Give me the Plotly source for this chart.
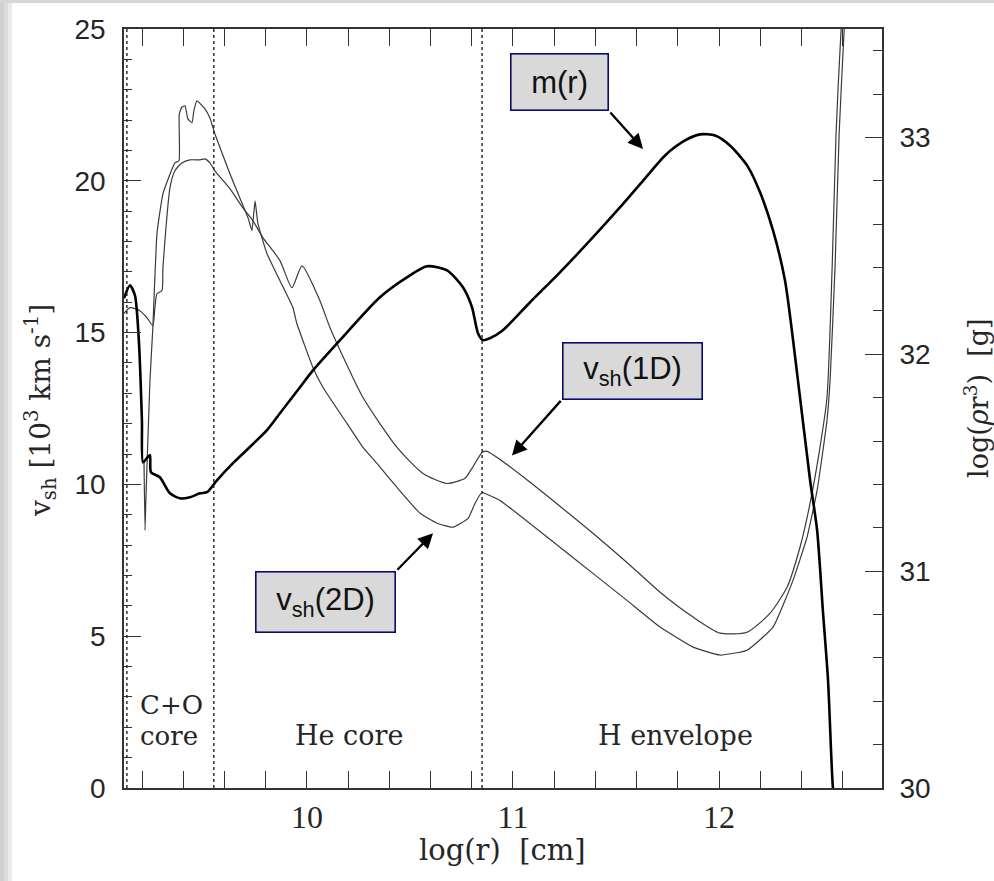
import plotly.graph_objects as go

# ---- data ----
# v_sh 1D  [10^3 km/s]  vs log(r) [cm]
x_1d = [9.112, 9.141, 9.189, 9.223, 9.252, 9.262, 9.272, 9.296, 9.301, 9.335, 9.359, 9.393,
        9.432, 9.481, 9.505, 9.529, 9.553, 9.626, 9.689, 9.738, 9.786, 9.869, 9.927, 9.976,
        10.063, 10.112, 10.272, 10.437, 10.563, 10.680, 10.767, 10.801, 10.850, 10.874,
        10.937, 11.083, 11.228, 11.388, 11.553, 11.714, 11.874, 12.005, 12.136, 12.248,
        12.330, 12.393, 12.442, 12.490, 12.524, 12.549, 12.568, 12.592, 12.610]
v_1d = [15.63, 15.82, 15.72, 15.49, 15.23, 15.82, 16.28, 16.38, 17.14, 19.77, 20.33, 20.59,
        20.69, 20.69, 20.72, 20.59, 20.33, 19.74, 19.11, 18.68, 18.13, 17.37, 16.48, 17.20,
        16.05, 15.16, 12.86, 11.22, 10.36, 10.03, 10.20, 10.53, 11.05, 11.09,
        10.82, 10.07, 9.28, 8.39, 7.43, 6.45, 5.63, 5.10, 5.13, 5.76,
        6.61, 7.93, 9.38, 11.22, 12.86, 17.14, 21.55, 24.93, 26.5]

# v_sh 2D
x_2d = [9.209, 9.214, 9.218, 9.238, 9.252, 9.272, 9.301, 9.359, 9.379, 9.380, 9.393, 9.408,
        9.422, 9.442, 9.451, 9.466, 9.505, 9.529, 9.553, 9.626, 9.660, 9.714, 9.733, 9.748,
        9.762, 9.806, 9.869, 9.932, 9.951, 10.029, 10.078, 10.194, 10.272, 10.340, 10.437,
        10.549, 10.631, 10.709, 10.782, 10.816, 10.850, 10.864, 10.937, 11.228, 11.388,
        11.553, 11.714, 11.874, 12.005, 12.136, 12.262, 12.359, 12.427, 12.476, 12.524,
        12.539, 12.563, 12.583, 12.607, 12.625]
v_2d = [10.8, 8.49, 9.47, 13.42, 15.16, 18.26, 19.57, 20.59, 20.66, 22.20, 22.43, 22.47,
        22.04, 21.91, 22.30, 22.63, 22.37, 22.07, 21.55, 20.23, 19.67, 18.78, 18.36, 19.34,
        18.59, 17.60, 16.71, 15.82, 15.30, 13.85, 13.19, 12.01, 11.22, 10.69, 9.90,
        9.05, 8.72, 8.59, 8.88, 9.38, 9.74, 9.70, 9.47, 7.93, 7.07,
        6.18, 5.30, 4.64, 4.38, 4.54, 5.30, 6.84, 8.26, 9.80, 12.11,
        13.42, 17.14, 21.55, 24.93, 26.5]

# log(rho r^3) [g]  (right axis)
x_m = [9.112, 9.141, 9.165, 9.184, 9.199, 9.204, 9.223, 9.238, 9.243, 9.286, 9.335, 9.383,
       9.432, 9.481, 9.515, 9.563, 9.641, 9.806, 9.869, 9.966, 10.029, 10.160, 10.354,
       10.485, 10.583, 10.680, 10.757, 10.801, 10.830, 10.854, 10.888, 10.951, 11.083,
       11.228, 11.374, 11.519, 11.641, 11.738, 11.835, 11.908, 11.981, 12.053, 12.136,
       12.199, 12.262, 12.320, 12.383, 12.442, 12.476, 12.505, 12.529, 12.553, 12.563]
m_r = [32.258, 32.318, 32.272, 32.065, 31.696, 31.502, 31.521, 31.535, 31.456, 31.433, 31.359,
       31.336, 31.341, 31.359, 31.364, 31.419, 31.498, 31.650, 31.728, 31.848, 31.926, 32.065,
       32.263, 32.355, 32.406, 32.387, 32.309, 32.217, 32.097, 32.065, 32.074, 32.111, 32.240,
       32.378, 32.525, 32.677, 32.811, 32.917, 32.986, 33.014, 33.009, 32.963, 32.871,
       32.747, 32.571, 32.341, 31.880, 31.419, 31.189, 30.806, 30.498, 30.0, 29.94]

# region boundaries (log r)
boundaries = [9.126, 9.548, 10.85]
region_labels = ["C+O", "core", "He core", "H envelope"]
region_x = [9.180, 9.180, 10.204, 11.791]
region_y = [2.72, 1.72, 1.72, 1.72]

x_ticks = [10, 11, 12]

W, H = 994, 881
L, R, T, B = 124, 882, 29, 788
serif = "Liberation Serif, Times New Roman, serif"
wserif = "DejaVu Serif, serif"
sans = "Liberation Sans, Arial, sans-serif"
ink = "#262626"
thin = "#3a3a3a"

fig = go.Figure()
fig.add_trace(go.Scatter(x=x_1d, y=v_1d, mode="lines",
                         line=dict(color=thin, width=1.2, shape="spline", smoothing=0.6),
                         name="v_sh(1D)", showlegend=False))
fig.add_trace(go.Scatter(x=x_2d, y=v_2d, mode="lines",
                         line=dict(color=thin, width=1.2, shape="spline", smoothing=0.4),
                         name="v_sh(2D)", showlegend=False))
fig.add_trace(go.Scatter(x=x_m, y=m_r, mode="lines",
                         line=dict(color="#000000", width=2.6, shape="spline", smoothing=0.7),
                         name="m(r)", yaxis="y2", showlegend=False))

for b in boundaries:
    fig.add_shape(type="line", x0=b, x1=b, y0=0, y1=25, xref="x", yref="y",
                  line=dict(color="#222", width=1.4, dash="dot"))

# region labels
for i, (lab, xx, yy) in enumerate(zip(region_labels, region_x, region_y)):
    fig.add_annotation(x=xx, y=yy, text=lab, showarrow=False,
                       xanchor="left" if i < 2 else "center", yanchor="middle",
                       font=dict(family=wserif, size=26 if i < 2 else 27, color=ink))

# labelled boxes
boxes = [("m(r)", 11.226, 23.26, 96, 55),
         ("v<sub>sh</sub>(1D)", 11.580, 13.75, 138, 55),
         ("v<sub>sh</sub>(2D)", 10.090, 6.12, 138, 59)]
for txt, bx, by, bw, bh in boxes:
    fig.add_annotation(x=bx, y=by, text=txt, showarrow=False, width=bw, height=bh,
                       bgcolor="#d9d9d9", bordercolor="#0a0a70", borderwidth=1.6, borderpad=0,
                       font=dict(family=sans, size=31, color="#111"))

arrows = [(11.631, 21.05, 11.466, 22.30),
          (10.995, 10.95, 11.238, 12.80),
          (10.612, 8.39, 10.432, 7.14)]
for tx, ty, sx, sy in arrows:
    fig.add_annotation(x=tx, y=ty, ax=sx, ay=sy, xref="x", yref="y", axref="x", ayref="y",
                       text="", showarrow=True, arrowhead=2, arrowsize=1.3, arrowwidth=2.3,
                       arrowcolor="#000", standoff=0, startstandoff=0)

# axis titles
def px_x(p):
    return (p - L) / (R - L)

def px_y(p):
    return (B - p) / (B - T)

fig.add_annotation(xref="paper", yref="paper", x=px_x(502), y=px_y(850),
                   xanchor="center", yanchor="middle",
                   text="log(r)\u00a0 [cm]", showarrow=False,
                   font=dict(family=wserif, size=29, color=ink))
fig.add_annotation(xref="paper", yref="paper", x=px_x(40), y=px_y(411),
                   xanchor="center", yanchor="middle",
                   text="v<sub>sh</sub> [10<sup>3</sup> km s<sup>-1</sup>]", textangle=-90,
                   showarrow=False, font=dict(family=wserif, size=28, color=ink))
fig.add_annotation(xref="paper", yref="paper", x=px_x(976), y=px_y(398),
                   xanchor="center", yanchor="middle",
                   text="log(<i>ρ</i>r<sup>3</sup>)\u00a0 [g]", textangle=-90,
                   showarrow=False, font=dict(family=wserif, size=27, color=ink))

# slide-like gray edges
for x0, x1, c in [(0, 4, "#cfcfcf"), (4, 8, "#dcdcdc"), (8, 12, "#ebebeb")]:
    fig.add_shape(type="rect", xref="paper", yref="paper", x0=px_x(x0), x1=px_x(x1),
                  y0=px_y(H), y1=px_y(0), line_width=0, fillcolor=c, layer="below")
fig.add_shape(type="rect", xref="paper", yref="paper", x0=px_x(0), x1=px_x(W),
              y0=px_y(3), y1=px_y(0), line_width=0, fillcolor="#d6d6d6", layer="below")

fig.update_layout(
    width=W, height=H, autosize=False,
    margin=dict(l=L, r=W - R, t=T, b=H - B, pad=0),
    paper_bgcolor="white", plot_bgcolor="white",
    xaxis=dict(range=[9.112, 12.791], tickvals=x_ticks, ticks="inside", ticklen=17,
               tickwidth=1.4, tickcolor="#333", showline=True, linecolor="#333", linewidth=1.6,
               mirror="allticks", showgrid=False, zeroline=False,
               minor=dict(tick0=0, dtick=0.2, ticks="inside", ticklen=9, tickwidth=1.3,
                          tickcolor="#333", showgrid=False),
               tickfont=dict(family=serif, size=32, color=ink), ticklabelstandoff=0),
    yaxis=dict(range=[0, 25], dtick=5, tick0=0, ticks="inside", ticklen=17, tickwidth=1.4,
               tickcolor="#333", showline=True, linecolor="#333", linewidth=1.6,
               showgrid=False, zeroline=False,
               minor=dict(dtick=1, ticks="inside", ticklen=8, tickwidth=1.3, tickcolor="#333",
                          showgrid=False),
               tickfont=dict(family=sans, size=28, color=ink), ticklabelstandoff=11),
    yaxis2=dict(range=[30, 33.5], dtick=1, tick0=30, overlaying="y", side="right",
                ticks="inside", ticklen=17, tickwidth=1.4, tickcolor="#333", showline=True,
                linecolor="#333", linewidth=1.6, showgrid=False, zeroline=False,
                minor=dict(dtick=0.2, ticks="inside", ticklen=9, tickwidth=1.3,
                           tickcolor="#333", showgrid=False),
                tickfont=dict(family=sans, size=28, color=ink), ticklabelstandoff=10),
)

fig.write_html("out.html")
